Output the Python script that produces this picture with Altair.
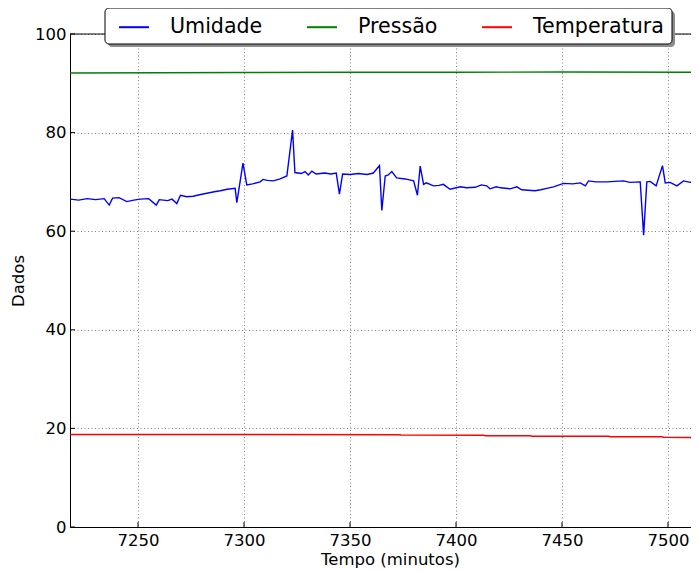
import altair as alt
import pandas as pd

# ---- data ----
umid_t = [7218, 7222, 7226, 7230, 7234, 7236.4, 7238, 7241, 7244.7, 7248, 7251, 7255,
          7258.6, 7260, 7264, 7266, 7268.3, 7270, 7273, 7276, 7279, 7282.5, 7286, 7288.8,
          7292, 7295.8, 7296.6, 7299.5, 7301.3, 7304, 7307.6, 7309, 7311, 7313.8, 7317,
          7320.2, 7322.9, 7324, 7327, 7328.8, 7330.3, 7332, 7334, 7338, 7341, 7343.5,
          7345, 7346.5, 7350, 7354, 7358, 7361, 7363.9, 7365, 7366.6, 7368, 7369.7, 7372,
          7376, 7380, 7381.8, 7383.1, 7384.7, 7386, 7389.4, 7392, 7394, 7397.2, 7402,
          7405, 7409, 7412, 7414.5, 7416, 7419, 7421, 7425.5, 7428.7, 7431, 7434, 7437.3,
          7440, 7442.8, 7446, 7450.7, 7455, 7458.6, 7461, 7462.5, 7466, 7471.2, 7475,
          7479, 7482, 7486.9, 7488.5, 7490, 7491.6, 7494.4, 7497.4, 7498.7, 7501, 7504.2,
          7507.3, 7510.5, 7513.6, 7516]
umid_v = [66.5, 66.3, 66.6, 66.4, 66.6, 65.3, 66.7, 66.8, 66.0, 66.3, 66.5, 66.6,
          65.3, 66.4, 66.2, 66.5, 65.6, 67.3, 67.0, 67.1, 67.4, 67.7, 68.0, 68.2,
          68.5, 68.7, 65.8, 73.8, 69.4, 69.6, 70.0, 70.5, 70.3, 70.2, 70.6,
          71.2, 80.5, 71.9, 71.7, 72.1, 71.4, 72.2, 71.6, 71.8, 71.6, 71.8,
          67.5, 71.6, 71.5, 71.7, 71.5, 71.8, 73.3, 64.2, 71.2, 71.4, 72.1, 70.8,
          70.6, 70.2, 67.3, 73.2, 69.5, 69.8, 69.2, 69.3, 69.5, 68.5, 69.0,
          68.8, 68.9, 69.4, 69.2, 68.6, 69.0, 68.8, 68.6, 69.0, 68.4, 68.3, 68.2,
          68.4, 68.7, 69.0, 69.7, 69.6, 69.8, 69.2, 70.2, 70.0, 70.0, 70.1,
          70.2, 69.9, 70.0, 59.2, 70.0, 70.1, 69.2, 73.3, 69.8, 69.9, 69.2,
          70.2, 69.9, 70.2, 70.1]

pres_t = [7218, 7260, 7300, 7350, 7400, 7450, 7516]
pres_v = [92.1, 92.15, 92.2, 92.25, 92.25, 92.3, 92.25]

temp_t = [7218, 7300, 7373, 7374, 7413, 7414, 7435, 7436, 7472, 7473, 7497, 7498, 7516]
temp_v = [18.75, 18.75, 18.72, 18.65, 18.6, 18.52, 18.5, 18.42, 18.4, 18.32, 18.3, 18.2, 18.15]

series_names = ["Umidade", "Pressão", "Temperatura"]
series_colors = ["#0000ff", "#008000", "#ff0000"]

x_ticks = [7250, 7300, 7350, 7400, 7450, 7500]
y_ticks = [0, 20, 40, 60, 80, 100]

rows = []
for name, ts, vs in [("Umidade", umid_t, umid_v), ("Pressão", pres_t, pres_v),
                     ("Temperatura", temp_t, temp_v)]:
    for t, v in zip(ts, vs):
        rows.append({"t": t, "v": v, "serie": name})
df = pd.DataFrame(rows)

W, H = 621, 493
FONT = "DejaVu Sans"
xscale = alt.Scale(domain=[7217.9, 7510.85], nice=False, zero=False)
yscale = alt.Scale(domain=[0, 100], nice=False)

lines = alt.Chart(df).mark_line(strokeWidth=1.4, clip=True).encode(
    x=alt.X("t:Q", scale=xscale,
            axis=alt.Axis(values=x_ticks, title="Tempo (minutos)", grid=True,
                          ticks=False, tickSize=0, labelPadding=5, titlePadding=3,
                          titleX=320, format="d")),
    y=alt.Y("v:Q", scale=yscale,
            axis=alt.Axis(values=y_ticks, title="Dados", grid=True, ticks=False,
                          tickSize=0, labelPadding=4, titlePadding=8)),
    color=alt.Color("serie:N",
                    scale=alt.Scale(domain=series_names, range=series_colors),
                    sort=series_names,
                    legend=alt.Legend(title=None, orient="none", legendX=48, legendY=-23,
                                      direction="horizontal", symbolType="stroke",
                                      symbolSize=900, symbolStrokeWidth=2,
                                      labelFontSize=20.6, labelFont=FONT, labelColor="black",
                                      labelOffset=20, columnPadding=40, padding=0)),
)

ydf = pd.DataFrame({"v": y_ticks})
xdf = pd.DataFrame({"t": x_ticks})
ytick_rules = alt.Chart(ydf).mark_rule(color="black", strokeWidth=1).encode(
    y=alt.Y("v:Q"), x=alt.value(0), x2=alt.value(5))
xtick_bot = alt.Chart(xdf).mark_rule(color="black", strokeWidth=1).encode(
    x=alt.X("t:Q"), y=alt.value(H), y2=alt.value(H - 5))
xtick_top = alt.Chart(xdf).mark_rule(color="black", strokeWidth=1).encode(
    x=alt.X("t:Q"), y=alt.value(0), y2=alt.value(5))

box_df = pd.DataFrame({"k": [0]})
top_line = alt.Chart(box_df).mark_rule(color="black", strokeWidth=1).encode(
    x=alt.value(0), x2=alt.value(W), y=alt.value(0))
shadow = alt.Chart(box_df).mark_rect(color="#8c8c8c", cornerRadius=4, clip=False).encode(
    x=alt.value(38), x2=alt.value(605), y=alt.value(-23), y2=alt.value(13))
box = alt.Chart(box_df).mark_rect(fill="white", stroke="black", strokeWidth=1,
                                  cornerRadius=4, clip=False).encode(
    x=alt.value(35), x2=alt.value(602), y=alt.value(-26), y2=alt.value(10))

chart = alt.layer(lines, ytick_rules, xtick_bot, xtick_top, top_line, shadow, box).properties(
    width=W, height=H,
    background="white",
    autosize=alt.AutoSizeParams(type="none"),
    padding={"left": 62, "top": 26, "right": 0, "bottom": 48},
).configure_view(
    stroke=None
).configure_axis(
    domainColor="black", domainWidth=1, labelColor="black", labelFont=FONT,
    labelFontSize=16.5, titleFont=FONT, titleFontSize=16.5, titleFontWeight="normal",
    titleColor="black", gridColor="#808080", gridDash=[1, 2.5], gridWidth=1, gridOpacity=1
)

chart.save("out.html", embed_options={"renderer": "svg", "actions": False})
